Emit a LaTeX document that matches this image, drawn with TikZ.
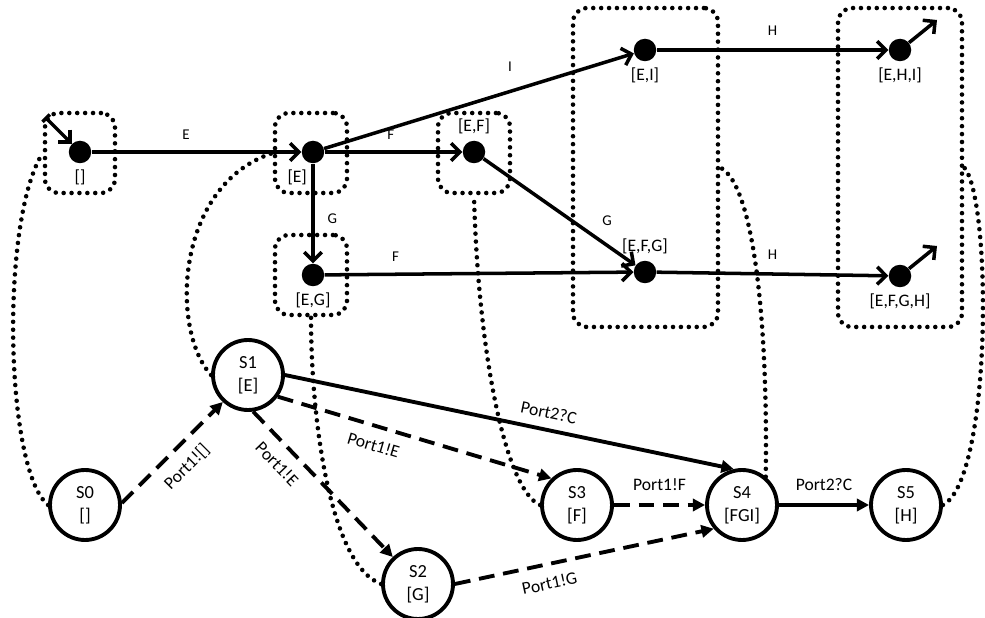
\documentclass[tikz,border=0pt]{standalone}
\usepackage{fontspec}
\setmainfont{Carlito}
\usetikzlibrary{arrows.meta}

\tikzset{
  dot/.style={circle, fill=black, inner sep=0pt, minimum size=0.45cm, font=\fontsize{8.5}{10}\selectfont},
  tarr/.style={line width=2pt, -{Straight Barb[length=5pt,width=10pt,line width=2pt]}},
  grp/.style={draw, line width=2.6pt, dash pattern=on 0pt off 4.5pt, line cap=round, rounded corners=8pt},
  dotline/.style={line width=2.6pt, dash pattern=on 0pt off 4.5pt, line cap=round},
  state/.style={circle, draw, line width=2.2pt, minimum size=1.4cm, inner sep=0pt, align=center, font=\fontsize{10.5}{13}\selectfont},
  sarr/.style={line width=2.2pt, -{Triangle[length=7pt,width=7pt]}},
  darr/.style={sarr, dash pattern=on 9pt off 5pt},
  lab/.style={font=\fontsize{8.5}{10}\selectfont},
  plab/.style={font=\fontsize{10}{12}\selectfont},
}

\begin{document}
\begin{tikzpicture}[x=0.02cm, y=-0.02cm]
\useasboundingbox (0,0) rectangle (985,618);

% groups
\node[grp, minimum width=1.4cm, minimum height=1.6cm] (g0) at (80,153) {};
\node[grp, minimum width=1.44cm, minimum height=1.6cm] (gE) at (311,153) {};
\node[grp, minimum width=1.44cm, minimum height=1.6cm] (gEF) at (474,153) {};
\node[grp, minimum width=1.44cm, minimum height=1.6cm] (gEG) at (311,275) {};
\node[grp, minimum width=2.9cm, minimum height=6.38cm] (gM) at (645.5,167.5) {};
\node[grp, minimum width=2.48cm, minimum height=6.38cm] (gR) at (900,167.5) {};

% upper graph
\node[dot, label={below:{[]}}] (n0) at (80,152) {};
\node[dot, label={[xshift=-9pt]below:{[E]}}] (nE) at (313,152) {};
\node[dot, label={above:{[E,F]}}] (nEF) at (474,152) {};
\node[dot, label={below:{[E,G]}}] (nEG) at (313,275) {};
\node[dot, label={below:{[E,I]}}] (nEI) at (645,50) {};
\node[dot, label={above:{[E,F,G]}}] (nEFG) at (645,272) {};
\node[dot, label={below:{[E,H,I]}}] (nEHI) at (900,50) {};
\node[dot, label={below:{[E,F,G,H]}}] (nEFGH) at (900,276) {};
\coordinate (init) at (45,117);
\coordinate (outA) at (937,20);
\coordinate (outB) at (937,246);

\draw[line width=2pt, {Bar[width=6pt]}-{Straight Barb[length=5pt,width=10pt,line width=2pt]}] (init) -- (n0);
\draw[tarr] (n0) -- (nE) node[lab, pos=0.45, above=3pt] {E};
\draw[tarr] (nE) -- (nEF) node[lab, pos=0.48, above=3pt] {F};
\draw[tarr] (nE) -- (nEI) node[lab, pos=0.6, above=7pt] {I};
\draw[tarr] (nE) -- (nEG) node[lab, pos=0.55, right=4pt] {G};
\draw[tarr] (nEF) -- (nEFG) node[lab, pos=0.72, above right=1pt] {G};
\draw[tarr] (nEG) -- (nEFG) node[lab, pos=0.23, above=3pt] {F};
\draw[tarr] (nEI) -- (nEHI) node[lab, pos=0.5, above=4pt] {H};
\draw[tarr] (nEFG) -- (nEFGH) node[lab, pos=0.5, above=4pt] {H};
\draw[tarr] (nEHI) -- (outA);
\draw[tarr] (nEFGH) -- (outB);

% state machine
\node[state] (s0) at (85,505) {S0\\{[]}};
\node[state] (s1) at (248,375) {S1\\{[E]}};
\node[state] (s2) at (418,584) {S2\\{[G]}};
\node[state] (s3) at (577,505) {S3\\{[F]}};
\node[state] (s4) at (742,505) {S4\\{[FGI]}};
\node[state] (s5) at (906,505) {S5\\{[H]}};

\draw[darr] (s0.3) -- (s1.227) node[plab, midway, sloped, below=3pt] {Port1![]};
\draw[darr] (s1.-82) -- (s2.133) node[plab, pos=0.27, sloped, below=3pt] {Port1!E};
\draw[darr] (s1.-36) -- (s3.134) node[plab, pos=0.37, sloped, below=3pt] {Port1!E};
\draw[sarr] (s1.east) -- (s4.103) node[plab, pos=0.58, sloped, above=2pt] {Port2?C};
\draw[darr] (s3) -- (s4) node[plab, midway, above=4pt] {Port1!F};
\draw[darr] (s2.east) -- (s4.220) node[plab, pos=0.35, sloped, below=3pt] {Port1!G};
\draw[sarr] (s4) -- (s5) node[plab, midway, above=4pt] {Port2?C};

% links between states and groups
\draw[dotline] (s0.west) .. controls (5,470) and (0,220) .. (g0.west);
\draw[dotline] (s1.west) .. controls (170,330) and (175,185) .. (gE.west);
\draw[dotline] (s2.west) .. controls (330,565) and (311,420) .. (gEG.south);
\draw[dotline] (s3.west) .. controls (505,490) and (478,350) .. (gEF.south);
\draw[dotline] (s4.50) .. controls (768,330) and (755,185) .. (gM.east);
\draw[dotline] (s5.east) .. controls (992,480) and (992,200) .. (gR.east);
\end{tikzpicture}
\end{document}
